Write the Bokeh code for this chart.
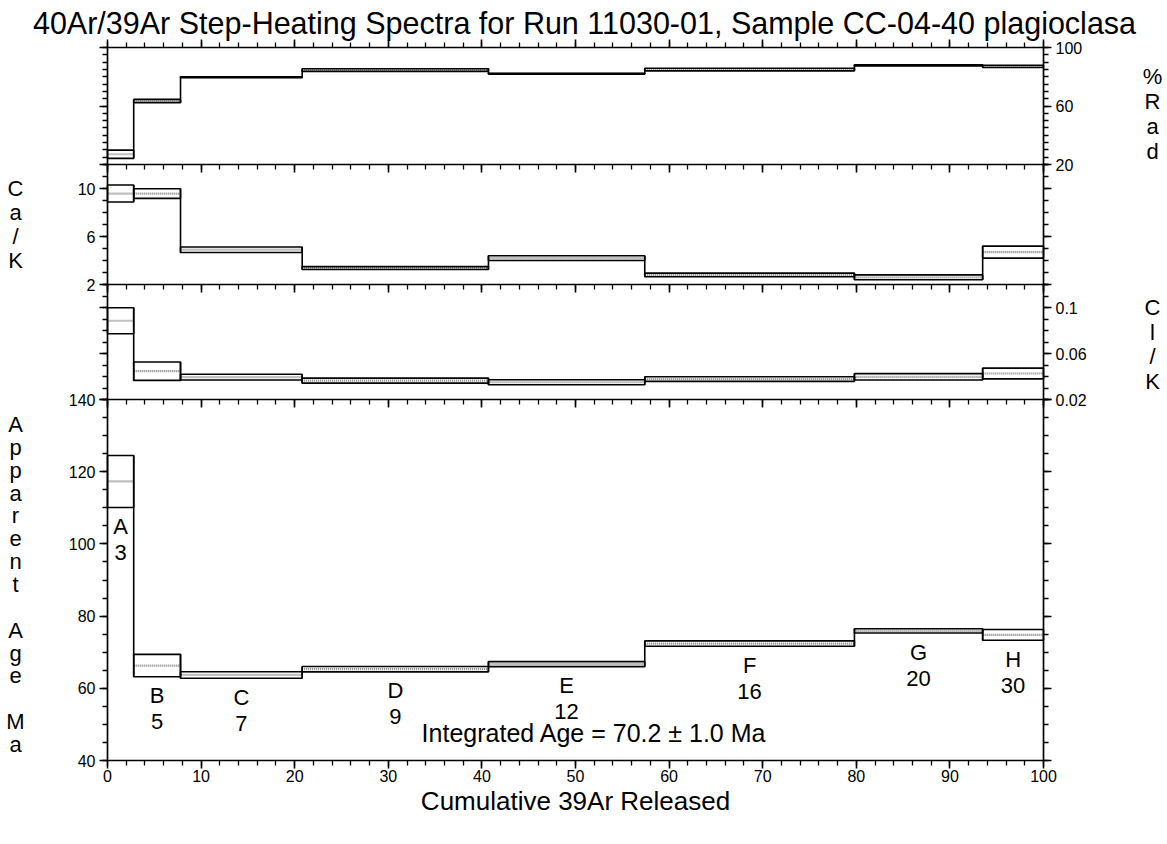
from bokeh.plotting import figure
from bokeh.models import Range1d, LinearAxis, FixedTicker, Label
from bokeh.embed import file_html
from bokeh.resources import INLINE

# ---------------- data ----------------
step_ids = ["A", "B", "C", "D", "E", "F", "G", "H"]
step_power = ["3", "5", "7", "9", "12", "16", "20", "30"]
cum_39ar = [0.0, 2.8, 7.8, 20.8, 40.7, 57.4, 79.8, 93.5, 100.0]

rad_pct = [27.0, 63.4, 79.7, 84.6, 82.1, 84.9, 87.8, 87.1]
rad_err = [2.8, 1.1, 0.3, 0.9, 0.3, 0.9, 0.4, 0.8]

ca_k = [9.58, 9.58, 4.90, 3.37, 4.20, 2.80, 2.60, 4.70]
ca_k_err = [0.71, 0.40, 0.23, 0.12, 0.20, 0.15, 0.20, 0.50]

cl_k = [0.0885, 0.0446, 0.0395, 0.0364, 0.0350, 0.0378, 0.0397, 0.0426]
cl_k_err = [0.0113, 0.0080, 0.0025, 0.0022, 0.0022, 0.0020, 0.0028, 0.0047]

age_ma = [117.3, 66.3, 63.7, 65.3, 66.7, 72.4, 75.9, 74.8]
age_err = [7.2, 3.1, 0.9, 0.75, 0.7, 0.75, 0.6, 1.5]

integrated_age = 70.2
integrated_err = 1.0

x_major = [0, 10, 20, 30, 40, 50, 60, 70, 80, 90, 100]
x_minor = list(range(0, 101, 2))
rad_major = [20, 60, 100]
rad_minor = list(range(20, 101, 5))
cak_major = [2, 6, 10]
cak_minor = list(range(2, 13, 1))
clk_major = [0.02, 0.06, 0.1]
clk_minor = [0.02, 0.03, 0.04, 0.05, 0.06, 0.07, 0.08, 0.09, 0.1, 0.11, 0.12]
age_major = [40, 60, 80, 100, 120, 140]
age_minor = list(range(40, 141, 5))

title_text = "40Ar/39Ar Step-Heating Spectra for Run 11030-01, Sample CC-04-40 plagioclasa"
x_title = "Cumulative 39Ar Released"

# ---------------- layout (canvas pixels) ----------------
FONT = "Liberation Sans"
W, H = 1167, 844
X0_PX, X100_PX = 107, 1043
panels = [("rad", 20, 100, 47, 164),
          ("cak", 2, 12, 164, 284),
          ("clk", 0.02, 0.12, 284, 399),
          ("age", 40, 140, 399, 760)]

xs = 100.0 / (X100_PX - X0_PX)
x_start = -X0_PX * xs
x_range = Range1d(start=x_start, end=x_start + W * xs)


def panel_range(lo, hi, top_px, bot_px):
    vpp = (hi - lo) / (bot_px - top_px)
    return Range1d(start=lo - (H - bot_px) * vpp, end=hi + top_px * vpp)


ranges = {name: panel_range(lo, hi, t, b) for name, lo, hi, t, b in panels}

p = figure(width=W, height=H, x_range=x_range, y_range=ranges["age"],
           min_border_left=0, min_border_right=0, min_border_top=0, min_border_bottom=0,
           x_axis_location=None, y_axis_location=None, toolbar_location=None,
           output_backend="svg")
p.title.visible = False
p.grid.visible = False
p.outline_line_color = None
p.background_fill_color = "white"
p.border_fill_color = "white"
for name in ("rad", "cak", "clk"):
    p.extra_y_ranges[name] = ranges[name]


def style_axis(ax, show_labels, standoff=4):
    ax.axis_line_color = "black"
    ax.axis_line_width = 1.7
    ax.major_tick_line_color = "black"
    ax.major_tick_line_width = 1.6
    ax.minor_tick_line_color = "black"
    ax.minor_tick_line_width = 1.3
    ax.major_tick_out = 8
    ax.major_tick_in = 0
    ax.minor_tick_out = 5
    ax.minor_tick_in = 0
    ax.major_label_text_font = FONT
    ax.major_label_text_font_size = "16px"
    ax.major_label_text_color = "black" if show_labels else None
    ax.major_label_standoff = standoff


def yname(name):
    return "default" if name == "age" else name


yspec = {
    "rad": (rad_major, rad_minor, False, True),
    "cak": (cak_major, cak_minor, True, False),
    "clk": (clk_major, clk_minor, False, True),
    "age": (age_major, age_minor, True, False),
}
for name, lo, hi, _, _ in panels:
    major, minor, lab_left, lab_right = yspec[name]
    for side, loc, lab in (("left", 0, lab_left), ("right", 100, lab_right)):
        ax = LinearAxis(y_range_name=yname(name), fixed_location=loc, bounds=(lo, hi),
                        ticker=FixedTicker(ticks=major, minor_ticks=minor))
        style_axis(ax, lab)
        if name == "clk":
            ax.major_label_overrides = {0.02: "0.02", 0.06: "0.06", 0.1: "0.1"}
        p.add_layout(ax, side)

# x axes: top edge ticks up, inner edges ticks down, bottom edge labelled
top_ax = LinearAxis(y_range_name="rad", fixed_location=100, bounds=(0, 100),
                    ticker=FixedTicker(ticks=x_major, minor_ticks=x_minor))
style_axis(top_ax, False)
p.add_layout(top_ax, "above")
for name, lo, hi, _, _ in panels[1:]:
    ax = LinearAxis(y_range_name=yname(name), fixed_location=hi, bounds=(0, 100),
                    ticker=FixedTicker(ticks=x_major, minor_ticks=x_minor))
    style_axis(ax, False)
    p.add_layout(ax, "below")
bot_ax = LinearAxis(fixed_location=40, bounds=(0, 100),
                    ticker=FixedTicker(ticks=x_major, minor_ticks=x_minor),
                    axis_label=x_title)
style_axis(bot_ax, True, standoff=1)
bot_ax.axis_label_text_font = FONT
bot_ax.axis_label_text_font_size = "26px"
bot_ax.axis_label_text_font_style = "normal"
bot_ax.axis_label_text_color = "black"
bot_ax.axis_label_standoff = 1
p.add_layout(bot_ax, "below")

# ---------------- spectra ----------------
xl = cum_39ar[:-1]
xr = cum_39ar[1:]
series = {"rad": (rad_pct, rad_err), "cak": (ca_k, ca_k_err),
          "clk": (cl_k, cl_k_err), "age": (age_ma, age_err)}
for name, (vals, errs) in series.items():
    rn = yname(name)
    lo = [v - e for v, e in zip(vals, errs)]
    hi = [v + e for v, e in zip(vals, errs)]
    p.segment(x0=xl, y0=vals, x1=xr, y1=vals, y_range_name=rn,
              line_color="#808080", line_width=2.2, line_dash="1 1")
    p.quad(left=xl, right=xr, bottom=lo, top=hi, y_range_name=rn,
           fill_color=None, line_color="black", line_width=1.6)
    bx = cum_39ar[1:-1]
    y0 = [min(lo[i], lo[i + 1]) for i in range(len(bx))]
    y1 = [max(hi[i], hi[i + 1]) for i in range(len(bx))]
    p.segment(x0=bx, y0=y0, x1=bx, y1=y1, y_range_name=rn,
              line_color="black", line_width=1.6)


def add_text(x, y, rn, text, size, x_off=0, y_off=0):
    p.add_layout(Label(x=x, y=y, y_range_name=rn, x_offset=x_off, y_offset=y_off, text=text,
                       text_align="center", text_baseline="middle",
                       text_font=FONT, text_font_size=size, text_color="black"))


# step labels under the age boxes
for i, sid in enumerate(step_ids):
    mid = (cum_39ar[i] + cum_39ar[i + 1]) / 2
    base = age_ma[i] - age_err[i]
    add_text(mid, base, "default", sid, "22px", y_off=-19)
    add_text(mid, base, "default", step_power[i], "22px", y_off=-45)

add_text(52, 40, "default",
         f"Integrated Age = {integrated_age:.1f} \u00b1 {integrated_err:.1f} Ma", "25px", y_off=28)

# title (centred a little right of the plot centre)
add_text(50, 100, "rad", title_text, "30.5px", x_off=9, y_off=25)


# stacked axis titles, one character per line
def stacked(letters, xdata, xoff, rn, ytop, top_px, first_px, step):
    for k, ch in enumerate(letters):
        if ch == " ":
            continue
        add_text(xdata, ytop, rn, ch, "22px", x_off=xoff,
                 y_off=-(first_px + k * step - top_px))


stacked("%Rad", 100, 1152 - X100_PX, "rad", 100, 47, 76, 25)
stacked("Ca/K", 0, 15 - X0_PX, "cak", 12, 164, 188, 24)
stacked("Cl/K", 100, 1152 - X100_PX, "clk", 0.12, 284, 307, 24.7)
stacked("Apparent Age Ma", 0, 15 - X0_PX, "default", 140, 399, 424, 22.86)

open("out.html", "w").write(file_html(p, INLINE))
